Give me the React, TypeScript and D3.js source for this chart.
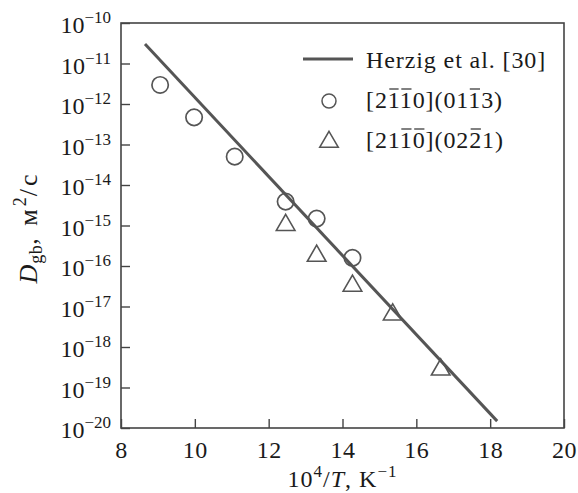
import React, { useEffect, useRef } from 'react';
import * as d3 from 'd3';

// Herzig et al. fit line (two end points), log10 of D
const fitX = [8.65, 18.19];
const fitLogD = [-10.52, -19.83];

// [2-1-10](01-13) circles
const circX = [9.06, 9.98, 11.08, 12.46, 13.3, 14.27];
const circLogD = [-11.53, -12.33, -13.3, -14.41, -14.83, -15.8];

// [2-1-10](02-21) triangles
const triX = [12.46, 13.3, 14.27, 15.36, 16.66];
const triLogD = [-14.99, -15.75, -16.49, -17.2, -18.56];

const xTicks = [8, 10, 12, 14, 16, 18, 20];
const yExps = [-10, -11, -12, -13, -14, -15, -16, -17, -18, -19, -20];

// legend texts, with the indices of the characters that carry a bar
const legendFit = 'Herzig et al. [30]';
const legendCirc = { text: '[2110](0113)', bars: [2, 3, 9] };
const legendTri = { text: '[2110](0221)', bars: [3, 4, 9] };

const FONT = "'Liberation Serif', 'Times New Roman', Tinos, serif";
const INK = '#1a1a1a';
const MARK = '#555555';
const FS = 24;
const SUP = 17;

function App() {
  const ref = useRef<SVGSVGElement>(null);

  useEffect(() => {
    if (!ref.current) return;
    const margin = { top: 23, right: 14, bottom: 65, left: 121 };
    const W = 578, H = 493;
    const width = W - margin.left - margin.right;
    const height = H - margin.top - margin.bottom;

    const svg = d3.select(ref.current).html('');
    svg.style('font-family', FONT);
    const g = svg.append('g').attr('transform', `translate(${margin.left},${margin.top})`);

    const x = d3.scaleLinear().domain([8, 20]).range([0, width]);
    const y = d3.scaleLog().domain([1e-20, 1e-10]).range([height, 0]);

    // frame
    g.append('rect')
      .attr('width', width).attr('height', height)
      .attr('fill', 'none').attr('stroke', '#444').attr('stroke-width', 1.6);

    // x axis ticks (inward)
    const xa = g.append('g').attr('transform', `translate(0,${height})`)
      .call(d3.axisBottom(x).tickValues(xTicks).tickSizeInner(-9).tickSizeOuter(0).tickFormat(d3.format('d')));
    xa.attr('font-family', null).attr('font-size', null);
    xa.select('.domain').remove();
    xa.selectAll('line').attr('stroke', '#444').attr('stroke-width', 1.4);
    xa.selectAll('text').style('font-family', FONT).attr('font-size', FS).attr('fill', INK)
      .attr('dy', null).attr('y', 30).attr('letter-spacing', 0.5);

    // y axis ticks (inward) with custom labels
    const ya = g.append('g')
      .call(d3.axisLeft(y).tickValues(yExps.map(e => Math.pow(10, e))).tickSizeInner(-9).tickSizeOuter(0).tickFormat(() => ''));
    ya.select('.domain').remove();
    ya.selectAll('line').attr('stroke', '#444').attr('stroke-width', 1.4);
    ya.selectAll('.tick text').remove();
    yExps.forEach(e => {
      const t = g.append('text')
        .attr('x', -10).attr('y', y(Math.pow(10, e)) + 10)
        .attr('text-anchor', 'end')
        .style('font-family', FONT).attr('font-size', FS).attr('fill', INK);
      t.append('tspan').text('10');
      t.append('tspan').attr('dy', -10).attr('font-size', SUP).text('\u2212' + Math.abs(e));
    });

    // fit line
    const line = d3.line<number>().x((d, i) => x(fitX[i])).y((d) => y(Math.pow(10, d)));
    g.append('path').datum(fitLogD).attr('d', line)
      .attr('fill', 'none').attr('stroke', '#555').attr('stroke-width', 3);

    // circles
    g.selectAll('circle.pt').data(circX).join('circle')
      .attr('class', 'pt')
      .attr('cx', d => x(d)).attr('cy', (d, i) => y(Math.pow(10, circLogD[i])))
      .attr('r', 8.2).attr('fill', 'none').attr('stroke', MARK).attr('stroke-width', 1.7);

    // triangles
    const tri = d3.symbol().type(d3.symbolTriangle).size(150);
    g.selectAll('path.tri').data(triX).join('path')
      .attr('class', 'tri')
      .attr('d', tri)
      .attr('transform', (d, i) => `translate(${x(d)},${y(Math.pow(10, triLogD[i]))})`)
      .attr('fill', 'none').attr('stroke', MARK).attr('stroke-width', 1.6);

    // legend
    const lg = svg.append('g');
    lg.append('line').attr('x1', 303).attr('x2', 353).attr('y1', 59).attr('y2', 59)
      .attr('stroke', '#555').attr('stroke-width', 3);
    lg.append('text').attr('x', 366).attr('y', 68)
      .style('font-family', FONT).attr('font-size', FS).attr('fill', INK)
      .attr('letter-spacing', 0.9)
      .text(legendFit);
    lg.append('circle').attr('cx', 329).attr('cy', 101).attr('r', 7)
      .attr('fill', 'none').attr('stroke', MARK).attr('stroke-width', 1.5);
    lg.append('path').attr('d', d3.symbol().type(d3.symbolTriangle).size(150)())
      .attr('transform', 'translate(329,142)')
      .attr('fill', 'none').attr('stroke', MARK).attr('stroke-width', 1.5);

    const miller = (yy: number, item: { text: string; bars: number[] }) => {
      const t = lg.append('text').attr('x', 366).attr('y', yy)
        .style('font-family', FONT).attr('font-size', FS).attr('fill', INK)
        .attr('letter-spacing', 0.9)
        .text(item.text);
      const node = t.node() as SVGTextElement;
      item.bars.forEach(i => {
        let x0: number, x1: number;
        try {
          x0 = node.getStartPositionOfChar(i).x;
          x1 = node.getEndPositionOfChar(i).x;
        } catch (err) {
          return;
        }
        lg.append('line')
          .attr('x1', x0 + 1.5).attr('x2', x1 - 1.2)
          .attr('y1', yy - 19).attr('y2', yy - 19)
          .attr('stroke', INK).attr('stroke-width', 1.1);
      });
    };
    miller(108, legendCirc);
    miller(148, legendTri);

    // y axis label
    const yl = svg.append('text')
      .attr('transform', `translate(37,${margin.top + height / 2 + 2}) rotate(-90)`)
      .attr('text-anchor', 'middle')
      .style('font-family', FONT).attr('font-size', 26).attr('fill', INK);
    yl.append('tspan').attr('font-style', 'italic').attr('letter-spacing', 1).text('D');
    yl.append('tspan').attr('font-size', 18).attr('dy', 5).attr('letter-spacing', 0.5).text('gb');
    yl.append('tspan').attr('dy', -5).attr('letter-spacing', 3).text(', м');
    yl.append('tspan').attr('font-size', 18).attr('dy', -11).attr('letter-spacing', 1).text('2');
    yl.append('tspan').attr('dy', 11).attr('letter-spacing', 3).text('/с');

    // x axis label
    const xl = svg.append('text')
      .attr('x', margin.left + width / 2).attr('y', 487)
      .attr('text-anchor', 'middle')
      .attr('letter-spacing', 1)
      .style('font-family', FONT).attr('font-size', FS).attr('fill', INK);
    xl.append('tspan').text('10');
    xl.append('tspan').attr('font-size', SUP).attr('dy', -10).text('4');
    xl.append('tspan').attr('dy', 10).text('/');
    xl.append('tspan').attr('font-style', 'italic').text('T');
    xl.append('tspan').text(', K');
    xl.append('tspan').attr('font-size', SUP).attr('dy', -10).text('\u22121');
  }, []);

  return (
    <svg ref={ref} width={578} height={493}
      style={{ position: 'absolute', left: 0, top: 0, background: '#fff' }} />
  );
}

export default App;
